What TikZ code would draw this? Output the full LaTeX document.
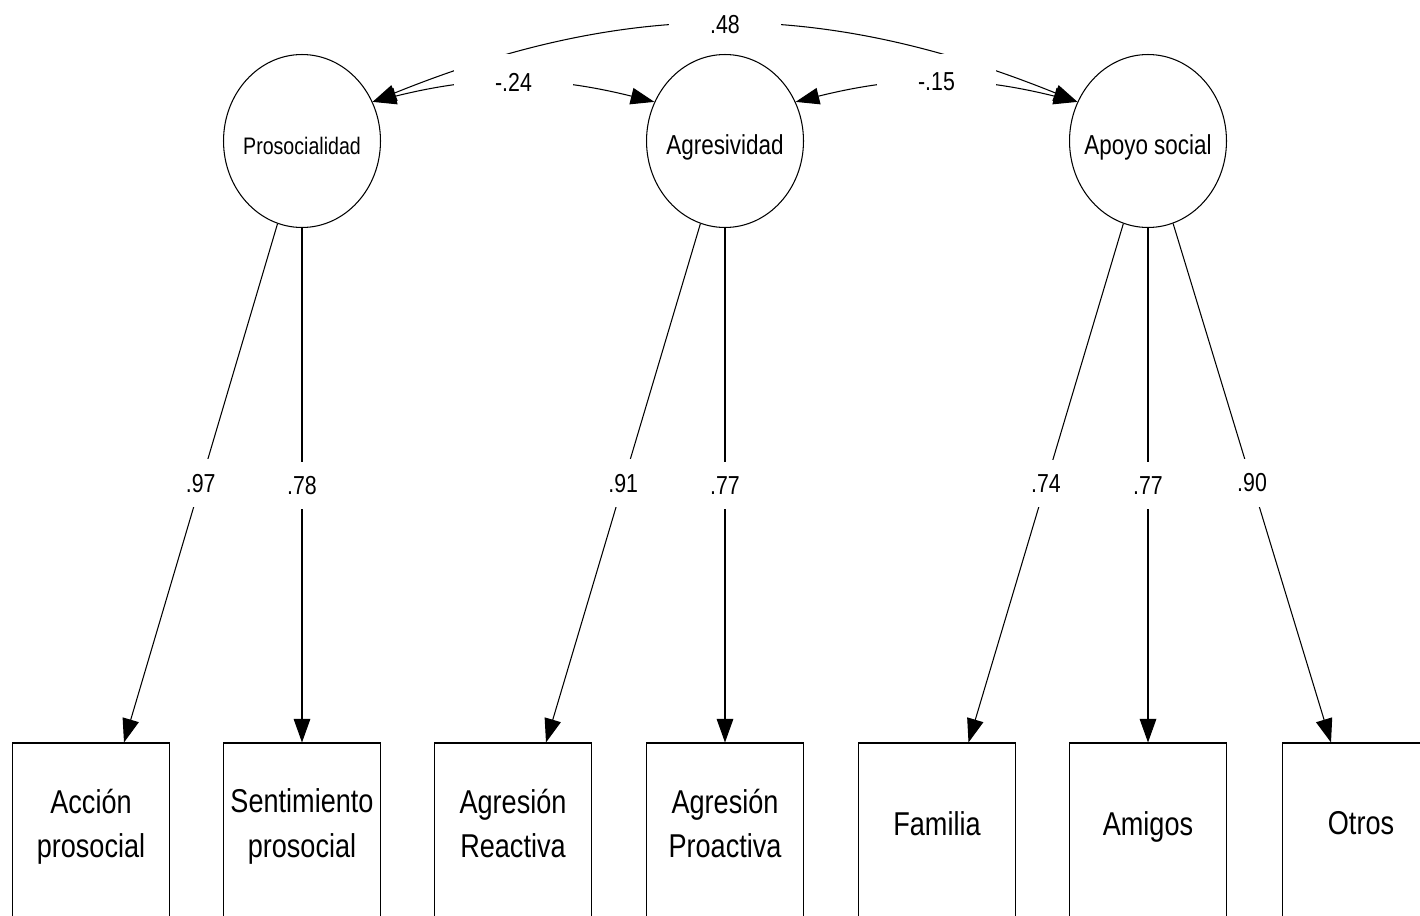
\documentclass[tikz,border=0pt]{standalone}
\usepackage{fontspec}
\setmainfont{Liberation Sans}
\usetikzlibrary{shapes.geometric,arrows.meta}
\newcommand{\nar}[1]{\scalebox{0.82}[1]{#1}}

\begin{document}
\begin{tikzpicture}[x=0.02cm,y=0.02cm,line width=0.6pt,
  latent/.style={draw,ellipse,minimum width=3.14cm,minimum height=3.46cm,inner xsep=-0.6cm,inner ysep=0pt,
    text height=0.58cm,text depth=0.05cm},
  observed/.style={draw,rectangle,minimum width=3.14cm,minimum height=3.56cm,inner sep=0pt,
    align=center,text depth=0.35cm,font=\fontsize{18.8}{25.5}\selectfont},
  coef/.style={fill=white,inner xsep=0.82cm,font=\fontsize{14.8}{16}\selectfont},
  cov/.style={coef,inner ysep=0.37cm},
  load/.style={coef,inner ysep=0.29cm},
  >={Triangle[length=13.5pt,width=9.5pt]}]
\useasboundingbox (0,0) rectangle (1420,-916);
\clip (0,0) rectangle (1420,-916);
% factores
\node[latent,font=\fontsize{13.6}{15}\selectfont] (pro) at (302,-141) {\nar{Prosocialidad}};
\node[latent,font=\fontsize{15.6}{17}\selectfont] (agr) at (725,-141) {\nar{Agresividad}};
\node[latent,font=\fontsize{15.6}{17}\selectfont] (apo) at (1148,-141) {\nar{Apoyo social}};
% indicadores
\node[observed] (acc) at (91,-832) {\nar{Acción}\\\nar{prosocial}};
\node[observed] (sen) at (302,-832) {\nar{Sentimiento}\\\nar{prosocial}};
\node[observed] (rea) at (513,-832) {\nar{Agresión}\\\nar{Reactiva}};
\node[observed] (pra) at (725,-832) {\nar{Agresión}\\\nar{Proactiva}};
\node[observed] (fam) at (937,-832) {\nar{Familia}};
\node[observed] (ami) at (1148,-832) {\nar{Amigos}};
\node[observed] (otr) at (1361,-832) {\nar{Otros}};
% covarianzas
\draw[<->] (pro.29) to[out=22,in=158] node[cov] {\nar{.48}} (apo.151);
\draw[<->] (pro.29) to[out=14,in=166] node[cov] {\nar{-.24}} (agr.151);
\draw[<->] (agr.29) to[out=14,in=166] node[cov] {\nar{-.15}} (apo.151);
% cargas
\foreach \f/\t/\s/\v in {pro/acc/0.66/.97,pro/sen/0/.78,agr/rea/0.66/.91,agr/pra/0/.77,
  apo/fam/0.63/.74,apo/ami/0/.77,apo/otr/-0.60/.90}
  \draw[->] (\f) -- node[load] {\nar{\v}} ([xshift=\s cm]\t.north);
\end{tikzpicture}
\end{document}
